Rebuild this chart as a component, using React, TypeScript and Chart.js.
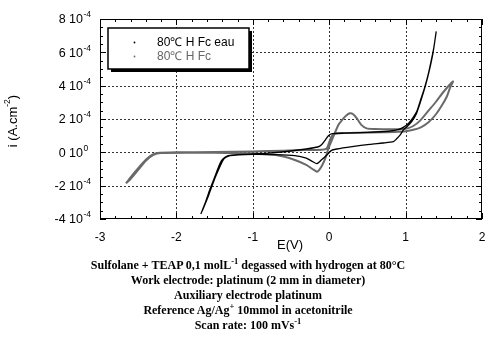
import React, { useEffect, useRef } from "react";
import { Chart, registerables } from "chart.js";
Chart.register(...registerables);

// Series names
const SERIES_NAMES = ["80\u2103 H Fc eau", "80\u2103 H Fc"];
const SERIES_COLORS = ["#000000", "#6a6a6a"];

// Axis ticks (current in units of 1e-4 A.cm-2)
const X_TICKS = [-3, -2, -1, 0, 1, 2];
const Y_TICKS = [-4, -2, 0, 2, 4, 6, 8];
const Y_TICK_BASES = ["-4 10", "-2 10", "0 10", "2 10", "4 10", "6 10", "8 10"];
const Y_TICK_EXPS = ["-4", "-4", "0", "-4", "-4", "-4", "-4"];

// 80°C H Fc eau (black)
const EAU_E = [
  -1.68, -1.62, -1.56, -1.5, -1.45, -1.41, -1.36, -1.3, -1.1, -0.8, -0.5, -0.3, -0.15, -0.1, -0.05, -0.01,
  0.04, 0.2, 0.4, 0.6, 0.8, 0.9, 0.97, 1.04, 1.1, 1.15, 1.2, 1.25, 1.3, 1.34, 1.37, 1.4,
  1.36, 1.31, 1.26, 1.2, 1.14, 1.08, 1.02, 0.97, 0.93, 0.88, 0.84, 0.7, 0.53, 0.3, 0.1, 0.03,
  -0.03, -0.1, -0.16, -0.22, -0.3, -0.45, -0.7, -1.0, -1.3, -1.38, -1.44, -1.5, -1.58, -1.66,
];
const EAU_I = [
  -3.7, -3.0, -2.2, -1.5, -0.9, -0.5, -0.28, -0.18, -0.12, -0.05, 0.08, 0.2, 0.32, 0.45, 0.75, 1.0,
  1.12, 1.15, 1.18, 1.22, 1.28, 1.36, 1.5, 1.75, 2.1, 2.5, 3.2, 3.9, 4.75, 5.6, 6.3, 7.23,
  6.0, 4.9, 4.0, 3.1, 2.3, 1.85, 1.55, 1.34, 1.05, 0.8, 0.64, 0.56, 0.48, 0.34, 0.2, 0.12,
  -0.16, -0.45, -0.68, -0.55, -0.35, -0.2, -0.14, -0.12, -0.2, -0.4, -0.95, -1.6, -2.6, -3.5,
];

// 80°C H Fc (grey)
const FC_E = [
  -2.66, -2.6, -2.5, -2.4, -2.32, -2.25, -2.0, -1.5, -1.0, -0.6, -0.3, -0.1, -0.03, 0.0, 0.03, 0.07,
  0.2, 0.4, 0.7, 0.9, 1.0, 1.1, 1.2, 1.3, 1.4, 1.48, 1.54, 1.58, 1.62,
  1.5, 1.4, 1.3, 1.2, 1.1, 1.0, 0.8, 0.6, 0.49, 0.42, 0.36, 0.31, 0.27, 0.22, 0.17, 0.12, 0.05,
  -0.01, -0.05, -0.09, -0.13, -0.16, -0.22, -0.3, -0.45, -0.6, -0.8, -1.2, -1.8, -2.2, -2.3, -2.4, -2.5, -2.6, -2.66,
];
const FC_I = [
  -1.86, -1.5, -0.95, -0.45, -0.15, -0.04, 0.0, 0.02, 0.05, 0.1, 0.14, 0.15, 0.25, 0.6, 0.95, 1.12,
  1.16, 1.18, 1.2, 1.23, 1.27, 1.35, 1.5, 1.8, 2.3, 2.85, 3.35, 3.85, 4.25,
  3.65, 3.05, 2.5, 1.95, 1.58, 1.42, 1.38, 1.4, 1.44, 1.65, 2.05, 2.3, 2.34, 2.2, 1.95, 1.64, 0.9,
  0.24, -0.35, -0.76, -1.05, -1.16, -1.0, -0.75, -0.46, -0.25, -0.12, -0.05, -0.02, -0.04, -0.15, -0.5, -1.05, -1.6, -1.86,
];

const CAPTION = [
  ["Sulfolane + TEAP 0,1 molL", "-1", " degassed with hydrogen at 80\u00B0C"],
  ["Work electrode: platinum (2 mm in diameter)", "", ""],
  ["Auxiliary electrode platinum", "", ""],
  ["Reference Ag/Ag", "+", " 10mmol in acetonitrile"],
  ["Scan rate: 100 mVs", "-1", ""],
];

const SANS = "'Liberation Sans', Arial, sans-serif";

const toPts = (xs: number[], ys: number[]) => xs.map((x, i) => ({ x, y: ys[i] }));

const gridPlugin = {
  id: "dotgrid",
  beforeDatasetsDraw(chart: any) {
    const { ctx, chartArea: a, scales } = chart;
    ctx.save();
    ctx.strokeStyle = "#333";
    ctx.lineWidth = 1;
    ctx.setLineDash([2, 2]);
    ctx.beginPath();
    X_TICKS.slice(1, -1).forEach((v) => {
      const px = Math.round(scales.x.getPixelForValue(v)) + 0.5;
      ctx.moveTo(px, a.top);
      ctx.lineTo(px, a.bottom);
    });
    Y_TICKS.slice(1, -1).forEach((v) => {
      const py = Math.round(scales.y.getPixelForValue(v)) + 0.5;
      ctx.moveTo(a.left, py);
      ctx.lineTo(a.right, py);
    });
    ctx.stroke();
    ctx.restore();
  },
};

const decorPlugin = {
  id: "decor",
  afterDatasetsDraw(chart: any) {
    const { ctx, chartArea: a, scales } = chart;
    const xs = scales.x;
    const ys = scales.y;
    ctx.save();
    // frame
    ctx.strokeStyle = "#000";
    ctx.lineWidth = 1;
    ctx.setLineDash([]);
    ctx.strokeRect(a.left + 0.5, a.top + 0.5, a.right - a.left - 1, a.bottom - a.top - 1);
    // x ticks (inward, top and bottom)
    ctx.beginPath();
    for (let v = -3; v <= 2.0001; v += 0.2) {
      const px = Math.round(xs.getPixelForValue(v)) + 0.5;
      const major = Math.abs(v - Math.round(v)) < 1e-6;
      const len = major ? 6 : 3;
      ctx.moveTo(px, a.bottom);
      ctx.lineTo(px, a.bottom - len);
      ctx.moveTo(px, a.top);
      ctx.lineTo(px, a.top + len);
    }
    // y ticks (inward, left and right)
    for (let v = -4; v <= 8.0001; v += 0.5) {
      const py = Math.round(ys.getPixelForValue(v)) + 0.5;
      const major = Math.abs(v / 2 - Math.round(v / 2)) < 1e-6;
      const len = major ? 6 : 3;
      ctx.moveTo(a.left, py);
      ctx.lineTo(a.left + len, py);
      ctx.moveTo(a.right, py);
      ctx.lineTo(a.right - len, py);
    }
    ctx.stroke();

    // x tick labels
    ctx.fillStyle = "#000";
    ctx.font = `12px ${SANS}`;
    ctx.textAlign = "center";
    ctx.textBaseline = "middle";
    X_TICKS.forEach((v) => {
      ctx.fillText(String(v), xs.getPixelForValue(v), 238);
    });
    // y tick labels
    Y_TICKS.forEach((v, i) => {
      const py = ys.getPixelForValue(v);
      ctx.font = `12.5px ${SANS}`;
      ctx.textAlign = "right";
      ctx.textBaseline = "middle";
      ctx.fillText(Y_TICK_BASES[i], 83, py + 1);
      ctx.font = `8.5px ${SANS}`;
      ctx.textAlign = "left";
      ctx.fillText(Y_TICK_EXPS[i], 83.5, py - 4);
    });
    // x title
    ctx.font = `13px ${SANS}`;
    ctx.textAlign = "center";
    ctx.textBaseline = "middle";
    ctx.fillText("E(V)", 290, 245);
    // y title (rotated)
    ctx.save();
    ctx.translate(13, 121);
    ctx.rotate(-Math.PI / 2);
    ctx.textBaseline = "middle";
    ctx.textAlign = "left";
    ctx.font = `13px ${SANS}`;
    const t1 = "i (A.cm";
    const t2 = "-2";
    const t3 = ")";
    const w1 = ctx.measureText(t1).width;
    ctx.font = `8.5px ${SANS}`;
    const w2 = ctx.measureText(t2).width;
    ctx.font = `13px ${SANS}`;
    const w3 = ctx.measureText(t3).width;
    const x0 = -(w1 + w2 + w3) / 2;
    ctx.fillText(t1, x0, 0);
    ctx.font = `8.5px ${SANS}`;
    ctx.fillText(t2, x0 + w1, -5);
    ctx.font = `13px ${SANS}`;
    ctx.fillText(t3, x0 + w1 + w2, 0);
    ctx.restore();

    // legend box with shadow
    const lx = 108, ly = 28, lw = 141, lh = 41;
    ctx.fillStyle = "#000";
    ctx.fillRect(lx + 3, ly + 3, lw, lh);
    ctx.fillStyle = "#fff";
    ctx.fillRect(lx, ly, lw, lh);
    ctx.strokeStyle = "#000";
    ctx.lineWidth = 1.5;
    ctx.strokeRect(lx, ly, lw, lh);
    const rows = [42.5, 56.5];
    SERIES_NAMES.forEach((name, i) => {
      ctx.fillStyle = SERIES_COLORS[i];
      ctx.beginPath();
      ctx.arc(134.5, rows[i], 0.9, 0, Math.PI * 2);
      ctx.fill();
      ctx.font = `12px ${SANS}`;
      ctx.textAlign = "left";
      ctx.textBaseline = "middle";
      ctx.fillStyle = i === 0 ? "#000" : "#666";
      ctx.fillText(name, 157, rows[i] + 0.5);
    });
    ctx.restore();
  },
};

export default function App() {
  const ref = useRef<HTMLCanvasElement | null>(null);
  useEffect(() => {
    document.body.style.margin = "0";
    document.documentElement.style.overflow = "hidden";
    const canvas = ref.current!;
    const chart = new Chart(canvas, {
      type: "scatter",
      data: {
        datasets: [
          {
            label: SERIES_NAMES[0],
            data: toPts(EAU_E, EAU_I),
            showLine: true,
            borderColor: SERIES_COLORS[0],
            borderWidth: 1.3,
            pointRadius: 0,
            tension: 0.2,
          },
          {
            label: SERIES_NAMES[1],
            data: toPts(FC_E, FC_I),
            showLine: true,
            borderColor: SERIES_COLORS[1],
            borderWidth: 2,
            pointRadius: 0,
            tension: 0.2,
          },
        ],
      },
      options: {
        animation: false,
        responsive: false,
        devicePixelRatio: 1,
        layout: { padding: { left: 100, right: 4, top: 19, bottom: 128 } },
        plugins: { legend: { display: false }, tooltip: { enabled: false } },
        scales: {
          x: {
            type: "linear",
            min: -3,
            max: 2,
            afterFit: (s: any) => { s.height = 0; },
            ticks: { display: false, stepSize: 1 },
            grid: { display: false },
            border: { display: false },
          },
          y: {
            type: "linear",
            min: -4,
            max: 8,
            afterFit: (s: any) => { s.width = 0; },
            ticks: { display: false, stepSize: 2 },
            grid: { display: false },
            border: { display: false },
          },
        },
      },
      plugins: [gridPlugin, decorPlugin],
    });
    return () => chart.destroy();
  }, []);

  return (
    <div style={{ position: "relative", width: 486, height: 347, background: "#fff" }}>
      <canvas ref={ref} width={486} height={347} style={{ display: "block" }} />
      <div
        style={{
          position: "absolute",
          left: 48,
          width: 400,
          top: 258,
          textAlign: "center",
          fontFamily: "'Liberation Serif', 'Times New Roman', serif",
          fontWeight: "bold",
          fontSize: 12,
          lineHeight: "15px",
          color: "#000",
          whiteSpace: "nowrap",
        }}
      >
        {CAPTION.map((c, i) => (
          <div key={i}>
            {c[0]}
            {c[1] ? (
              <sup style={{ fontSize: 8.5, verticalAlign: 5, lineHeight: 0 }}>{c[1]}</sup>
            ) : null}
            {c[2]}
          </div>
        ))}
      </div>
    </div>
  );
}
